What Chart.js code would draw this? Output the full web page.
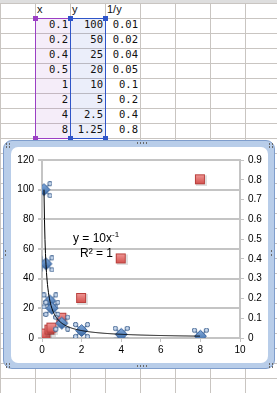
<!DOCTYPE html>
<html>
<head>
<meta charset="utf-8">
<script src="https://cdn.jsdelivr.net/npm/chart.js@4.4.1/dist/chart.umd.min.js"></script>
<style>
body {
    margin: 0;
    width: 277px;
    height: 393px;
    overflow: hidden;
    position: relative;
    background-color: #fff;
    background-image: linear-gradient(to right, #c9c5c1 1px, transparent 1px),
        linear-gradient(to bottom, #c9c5c1 1px, transparent 1px);
    background-size: 35px 15px;
    background-position: 35px 3px;
}
.topbar { position: absolute; left: 0; top: 0; width: 277px; height: 3px; background: #dedede; }
.cell {
    position: absolute;
    width: 35px;
    height: 15px;
    line-height: 15px;
    font: 10.5px "DejaVu Sans Mono", monospace;
    color: #111;
    text-align: right;
    padding-right: 2px;
    box-sizing: border-box;
}
.cell.head { text-align: left; padding-left: 2px; font-family: "Liberation Sans", sans-serif; font-size: 11px; }
.sel { position: absolute; box-sizing: border-box; }
.handle { position: absolute; width: 5px; height: 5px; }
.frame {
    position: absolute; left: 3px; top: 140px; width: 272px; height: 229px;
    box-sizing: border-box; border: 1px solid #7e9dcc; border-radius: 9px;
    background: #b8cde9;
}
.inner {
    position: absolute; left: 11px; top: 147px; width: 257px; height: 216px;
    background: #fff; border-radius: 7px; overflow: hidden;
}
.dots { position: absolute; height: 2px;
    background: repeating-linear-gradient(to right, #6a6a6a 0 1px, transparent 1px 3px); }
</style>
</head>
<body>
<div class="topbar"></div>
<div id="sheet"></div>
<div class="frame"></div>
<div class="dots" style="left:137px;top:142px;width:10px"></div>
<div class="dots" style="left:137px;top:365px;width:10px"></div>
<div class="dots" style="left:6px;top:143px;width:4px"></div>
<div class="dots" style="left:6px;top:146px;width:4px"></div>
<div class="dots" style="left:269px;top:143px;width:4px"></div>
<div class="dots" style="left:269px;top:146px;width:4px"></div>
<div class="dots" style="left:6px;top:363px;width:4px"></div>
<div class="dots" style="left:6px;top:366px;width:4px"></div>
<div class="dots" style="left:269px;top:363px;width:4px"></div>
<div class="dots" style="left:269px;top:366px;width:4px"></div>
<div class="dots" style="left:5px;top:250px;width:2px"></div>
<div class="dots" style="left:5px;top:254px;width:2px"></div>
<div class="dots" style="left:271px;top:250px;width:2px"></div>
<div class="dots" style="left:271px;top:254px;width:2px"></div>
<div class="inner"><canvas id="myChart" width="257" height="216"></canvas></div>
<script>
const headers = ['x', 'y', '1/y'];
const xVals = [0.1, 0.2, 0.4, 0.5, 1, 2, 4, 8];
const yVals = [100, 50, 25, 20, 10, 5, 2.5, 1.25];
const invVals = [0.01, 0.02, 0.04, 0.05, 0.1, 0.2, 0.4, 0.8];

const xTicks = [0, 2, 4, 6, 8, 10];
const yTicks = [0, 20, 40, 60, 80, 100, 120];
const y2Ticks = [0, 0.1, 0.2, 0.3, 0.4, 0.5, 0.6, 0.7, 0.8, 0.9];

// spreadsheet part
const sheet = document.getElementById('sheet');
function addCell(col, row, text, head) {
    const d = document.createElement('div');
    d.className = head ? 'cell head' : 'cell';
    d.style.left = (35 + col * 35) + 'px';
    d.style.top = (3 + row * 15) + 'px';
    d.textContent = text;
    sheet.appendChild(d);
}
function addSel(left, color, fill) {
    const s = document.createElement('div');
    s.className = 'sel';
    s.style.cssText = 'left:' + left + 'px;top:18px;width:36px;height:121px;border:1.5px solid ' + color + ';background:' + fill;
    sheet.appendChild(s);
}
addSel(35, '#9b3fc4', 'rgba(160,80,200,0.1)');
addSel(70, '#2f55c8', 'rgba(60,90,210,0.1)');
headers.forEach((h, i) => addCell(i, 0, h, true));
xVals.forEach((v, i) => {
    addCell(0, i + 1, String(v));
    addCell(1, i + 1, String(yVals[i]));
    addCell(2, i + 1, String(invVals[i]));
});
[[35, '#9b3fc4'], [70, '#2f55c8'], [105, '#2f55c8']].forEach(([x, c]) => {
    [18, 138].forEach(y => {
        const h = document.createElement('div');
        h.className = 'handle';
        h.style.cssText = 'left:' + (x - 2) + 'px;top:' + (y - 2) + 'px;background:' + c;
        sheet.appendChild(h);
    });
});

// marker images
function blueMarker() {
    const c = document.createElement('canvas');
    c.width = 17; c.height = 17;
    const g = c.getContext('2d');
    const m = 8.5, o = 6;
    g.strokeStyle = '#3f6594';
    g.lineWidth = 1.2;
    g.beginPath();
    g.moveTo(m - o, m - o); g.lineTo(m + o, m + o);
    g.moveTo(m + o, m - o); g.lineTo(m - o, m + o);
    g.stroke();
    const gr = g.createLinearGradient(0, 2, 0, 15);
    gr.addColorStop(0, '#86aee0');
    gr.addColorStop(1, '#35649f');
    g.fillStyle = gr;
    g.beginPath();
    g.moveTo(m, m - 6); g.lineTo(m + 6, m); g.lineTo(m, m + 6); g.lineTo(m - 6, m);
    g.closePath();
    g.fill();
    g.lineWidth = 1;
    g.strokeStyle = '#335c96';
    g.stroke();
    [[-1, -1], [1, -1], [-1, 1], [1, 1]].forEach(([sx, sy]) => {
        g.beginPath();
        g.arc(m + sx * o, m + sy * o, 2.2, 0, Math.PI * 2);
        g.fillStyle = '#c9d9ee';
        g.fill();
        g.strokeStyle = '#3d5f8c';
        g.stroke();
    });
    return c;
}
function redMarker() {
    const c = document.createElement('canvas');
    c.width = 13; c.height = 13;
    const g = c.getContext('2d');
    g.fillStyle = 'rgba(0,0,0,0.12)';
    g.fillRect(2, 2, 11, 11);
    const gr = g.createLinearGradient(0, 1, 0, 11);
    gr.addColorStop(0, '#f19a98');
    gr.addColorStop(1, '#d24f4b');
    g.fillStyle = gr;
    g.fillRect(1, 1, 10, 10);
    g.strokeStyle = '#b9403d';
    g.lineWidth = 1;
    g.strokeRect(1.5, 1.5, 9, 9);
    return c;
}

// power trendline y = a*x^b fitted on the blue series
function powerFit(xs, ys) {
    const lx = xs.map(Math.log), ly = ys.map(Math.log);
    const n = xs.length;
    const mx = lx.reduce((s, v) => s + v, 0) / n;
    const my = ly.reduce((s, v) => s + v, 0) / n;
    let sxy = 0, sxx = 0, syy = 0;
    for (let i = 0; i < n; i++) {
        sxy += (lx[i] - mx) * (ly[i] - my);
        sxx += (lx[i] - mx) ** 2;
        syy += (ly[i] - my) ** 2;
    }
    const b = sxy / sxx;
    return { a: Math.exp(my - b * mx), b: b, r2: (sxy * sxy) / (sxx * syy) };
}
const fit = powerFit(xVals, yVals);

const trendPlugin = {
    id: 'trend',
    afterDatasetsDraw(chart) {
        const ctx = chart.ctx, area = chart.chartArea;
        const xs = chart.scales.x, ys = chart.scales.y;
        const p0 = xs.getPixelForValue(Math.min(...xVals));
        const p1 = xs.getPixelForValue(Math.max(...xVals));
        ctx.save();
        ctx.beginPath();
        ctx.rect(area.left, area.top, area.right - area.left, area.bottom - area.top);
        ctx.clip();
        ctx.strokeStyle = '#000';
        ctx.lineWidth = 1;
        ctx.beginPath();
        for (let px = p0; px <= p1; px += 0.5) {
            const xv = xs.getValueForPixel(px);
            const py = ys.getPixelForValue(fit.a * Math.pow(xv, fit.b));
            if (px === p0) ctx.moveTo(px, py); else ctx.lineTo(px, py);
        }
        ctx.stroke();
        ctx.restore();

        // equation label
        ctx.save();
        ctx.fillStyle = '#000';
        ctx.font = '12px "Liberation Sans", Arial, sans-serif';
        ctx.textBaseline = 'alphabetic';
        const lx = area.left + 31, ly = area.top + 82;
        const main = 'y = ' + Math.round(fit.a) + 'x';
        ctx.fillText(main, lx, ly);
        const w = ctx.measureText(main).width;
        ctx.font = '8px "Liberation Sans", Arial, sans-serif';
        ctx.fillText(String(Math.round(fit.b)), lx + w, ly - 5);
        ctx.font = '12px "Liberation Sans", Arial, sans-serif';
        ctx.fillText('R² = ' + Math.round(fit.r2 * 10000) / 10000, area.left + 38, area.top + 97);
        ctx.restore();
    }
};

function fixedTicks(arr) {
    return function (scale) {
        scale.ticks = arr.map(v => ({ value: v }));
    };
}

const tickFont = { family: '"Liberation Sans", Arial, sans-serif', size: 10 };
const gridGray = '#c4c4c4';

const config = {
    type: 'scatter',
    data: {
        datasets: [{
            label: 'y',
            data: xVals.map((x, i) => ({ x: x, y: yVals[i] })),
            yAxisID: 'y',
            pointStyle: blueMarker(),
            pointRadius: 8,
            order: 1
        }, {
            label: '1/y',
            data: xVals.map((x, i) => ({ x: x, y: invVals[i] })),
            yAxisID: 'y2',
            pointStyle: redMarker(),
            pointRadius: 6,
            order: 2
        }]
    },
    options: {
        responsive: false,
        animation: false,
        devicePixelRatio: 1,
        layout: { padding: { top: 13, left: 0, right: 0, bottom: 0 } },
        plugins: { legend: { display: false }, tooltip: { enabled: false } },
        scales: {
            x: {
                type: 'linear',
                min: 0,
                max: 10,
                afterBuildTicks: fixedTicks(xTicks),
                afterFit: s => { s.height = 25; },
                ticks: { font: tickFont, color: '#000', padding: 2, maxRotation: 0, callback: v => String(v) },
                grid: { drawOnChartArea: false, tickLength: 4, color: gridGray, lineWidth: 1 },
                border: { color: gridGray, width: 2 }
            },
            y: {
                position: 'left',
                min: 0,
                max: 120,
                afterBuildTicks: fixedTicks(yTicks),
                afterFit: s => { s.width = 31; },
                ticks: { font: tickFont, color: '#000', padding: 4, callback: v => String(v) },
                grid: { color: gridGray, lineWidth: 2, tickLength: 4 },
                border: { color: gridGray, width: 2 }
            },
            y2: {
                position: 'right',
                min: 0,
                max: 0.9,
                afterBuildTicks: fixedTicks(y2Ticks),
                afterFit: s => { s.width = 28; },
                ticks: { font: tickFont, color: '#000', padding: 4, callback: v => String(v) },
                grid: { drawOnChartArea: false, color: gridGray, lineWidth: 1, tickLength: 4 },
                border: { color: gridGray, width: 2 }
            }
        }
    },
    plugins: [trendPlugin]
};

const myChart = new Chart(document.getElementById('myChart'), config);
</script>
</body>
</html>
